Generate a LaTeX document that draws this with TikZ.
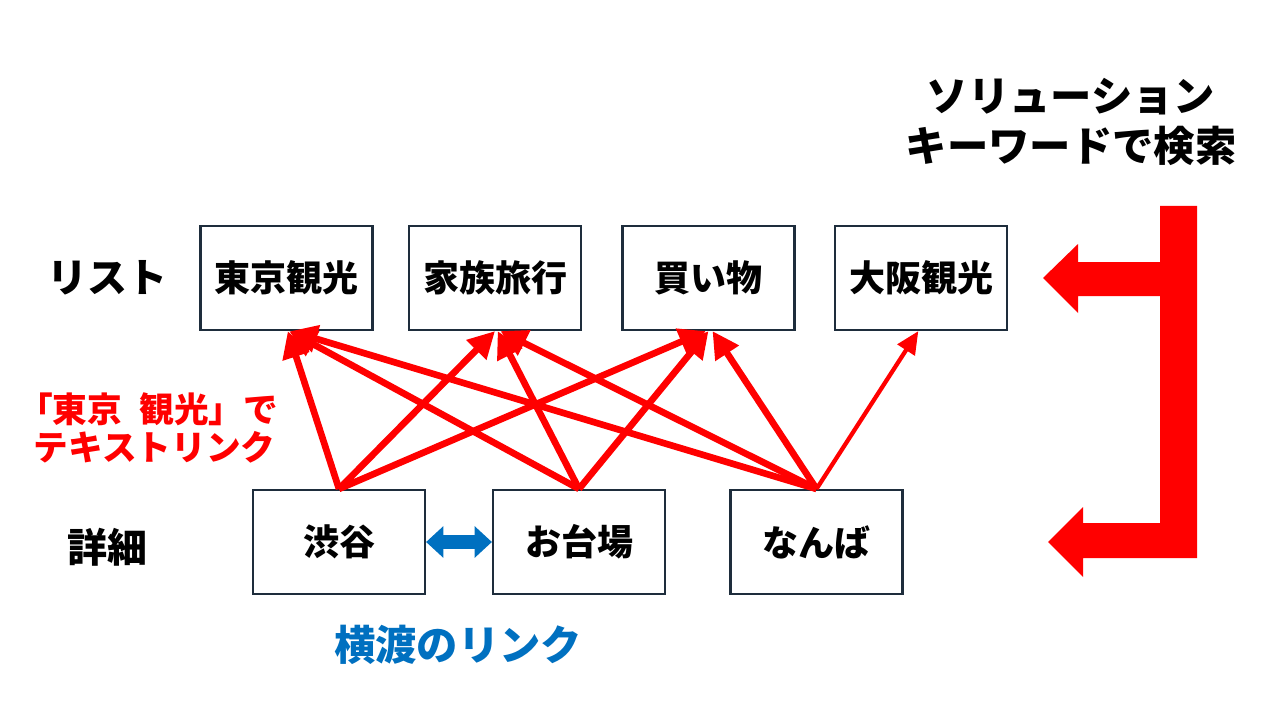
\documentclass[tikz,border=0pt]{standalone}
\usepackage{fontspec}
\setmainfont{Noto Sans CJK JP}
\usetikzlibrary{arrows.meta}
\definecolor{boxline}{RGB}{30,45,60}
\definecolor{linkblue}{RGB}{0,112,192}
\begin{document}
\begin{tikzpicture}[x=0.75pt,y=-0.75pt,
  box/.style={draw=boxline, line width=1.6pt, minimum width=129pt, minimum height=78pt, inner sep=0pt, font=\bfseries\fontsize{27}{30}\selectfont},
  link/.style={draw=red, line width=5pt, -{Triangle[length=20pt,width=20pt]}},
  thinlink/.style={draw=red, line width=3.2pt, -{Triangle[length=17pt,width=15pt]}},
  lbl/.style={font=\bfseries\fontsize{30}{34}\selectfont},
  side/.style={fill=red, draw=none}
]
\useasboundingbox (0,0) rectangle (1280,720);

% top row
\node[box] (tokyo)  at (286.5,278) {\raisebox{-2pt}{東京観光}};
\node[box] (kazoku) at (495,278)   {\raisebox{-2pt}{家族旅行}};
\node[box] (kaimono) at (708.5,278) {\raisebox{-2pt}{買い物}};
\node[box] (osaka)  at (921,278)   {\raisebox{-2pt}{大阪観光}};

% bottom row
\node[box] (shibuya) at (339,542)   {\raisebox{-2pt}{渋谷}};
\node[box] (odaiba)  at (579,542)   {\raisebox{-2pt}{お台場}};
\node[box] (namba)   at (816.5,542) {\raisebox{-2pt}{なんば}};

% row labels
\node[lbl] (list) at (107,278) {リスト};
\node[lbl] (detail) at (107,547) {詳細};

% title
\node[font=\bfseries\fontsize{31}{38}\selectfont, align=center] (title) at (1071,122) {ソリューション\\キーワードで検索};

% red note
\node[font=\bfseries\fontsize{26}{28}\selectfont, text=red, align=left, anchor=west] (note) at (29,428)
  {\hspace*{-0.45em}「東京\hspace{0.5em}観光」で\\テキストリンク};

% blue note
\node[font=\bfseries\fontsize{31}{34}\selectfont, text=linkblue] (yoko) at (458,645) {横渡のリンク};

% links
\draw[link] (shibuya.north) -- ([xshift=1pt]tokyo.south);
\draw[link] (shibuya.north) -- (kazoku.south);
\draw[link] (shibuya.north) -- ([xshift=-2pt]kaimono.south);
\draw[link] (odaiba.north) -- ([xshift=2pt]tokyo.south);
\draw[link] (odaiba.north) -- ([xshift=2pt]kazoku.south);
\draw[link] (odaiba.north) -- (kaimono.south);
\draw[link] (namba.north) -- ([xshift=3pt]tokyo.south);
\draw[link] (namba.north) -- ([xshift=4pt]kazoku.south);
\draw[link] (namba.north) -- ([xshift=3pt]kaimono.south);
\draw[thinlink] (namba.north) -- ([xshift=-2pt]osaka.south);

% horizontal link
\draw[linkblue, line width=10pt, {Triangle[length=13pt,width=23pt]}-{Triangle[length=13pt,width=23pt]}] (shibuya.east) -- (odaiba.west);

% big bracket arrow
\fill[side] (1160,206) -- (1197,206) -- (1197,558) -- (1083,558) -- (1083,577) -- (1048,542) -- (1083,507) -- (1083,523) -- (1160,523) -- (1160,296) -- (1078,296) -- (1078,313) -- (1043,278) -- (1078,244) -- (1078,262) -- (1160,262) -- cycle;
\end{tikzpicture}
\end{document}
